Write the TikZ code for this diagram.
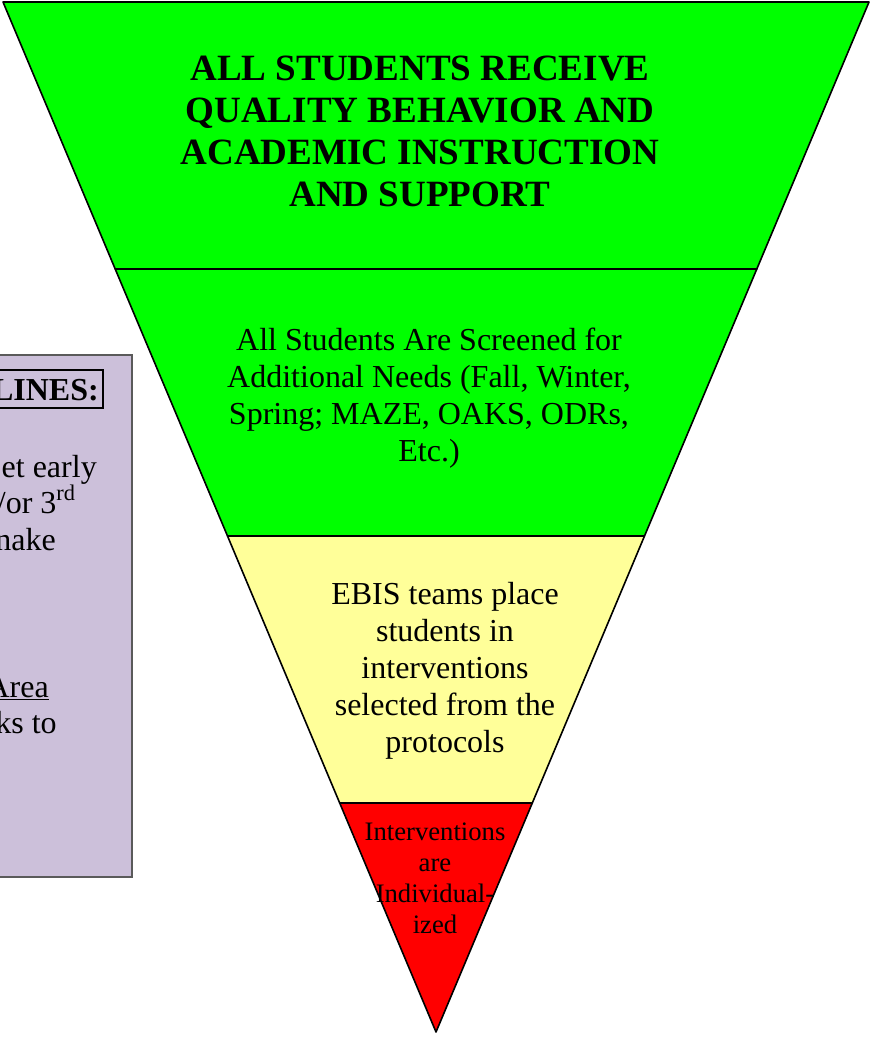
\documentclass[tikz,border=0pt]{standalone}
\usepackage{fontspec}
\setmainfont{Liberation Serif}
\definecolor{tgreen}{RGB}{0,255,0}
\definecolor{tyellow}{RGB}{255,255,153}
\definecolor{tred}{RGB}{255,0,0}
\definecolor{boxpurple}{RGB}{204,192,218}
\definecolor{boxedge}{RGB}{90,90,90}
\tikzset{
  band/.style={draw=black, line width=1.2pt, line join=round},
  toptext/.style={align=center, inner sep=0pt, font=\fontsize{27.8}{31.7}\selectfont\bfseries},
  midtext/.style={align=center, inner sep=0pt, font=\fontsize{24}{27.75}\selectfont},
  smalltext/.style={align=center, inner sep=0pt, font=\fontsize{20}{23.25}\selectfont},
  sidetext/.style={inner sep=0pt, anchor=base east, font=\fontsize{24}{27.75}\selectfont},
}
\begin{document}
\begin{tikzpicture}[x=0.75pt, y=-0.75pt]
\useasboundingbox (0,0) rectangle (871,1037);
\clip (0,0) rectangle (871,1037);
% side box (cut by the page edge)
\draw[fill=boxpurple, draw=boxedge, line width=0.8pt] (-10,355) rectangle (132,877);
\draw[black, line width=1.1pt] (-10,370) rectangle (103,408);
\node[sidetext, font=\fontsize{24}{27.75}\selectfont\bfseries] (sh) at (99,400) {LINES:};
\node[sidetext] (s1) at (97,477) {et early};
\node[sidetext] (s2) at (76,513) {/or 3\textsuperscript{rd}};
\node[sidetext] (s3) at (56,550) {nake};
\node[sidetext] (s4) at (49,697) {\underline{Area}};
\node[sidetext] (s5) at (57,733) {ks to};
% pyramid bands
\fill[tgreen] (3,2) -- (869,2) -- (756.8,269) -- (115.2,269) -- cycle;
\draw[band] (3,2) -- (869,2) -- (756.8,269) -- (115.2,269) -- cycle;
\fill[tgreen] (115.2,269) -- (756.8,269) -- (644.5,536) -- (227.5,536) -- cycle;
\draw[band] (115.2,269) -- (756.8,269) -- (644.5,536) -- (227.5,536) -- cycle;
\fill[tyellow] (227.5,536) -- (644.5,536) -- (532.3,803) -- (339.7,803) -- cycle;
\draw[band] (227.5,536) -- (644.5,536) -- (532.3,803) -- (339.7,803) -- cycle;
\fill[tred] (339.7,803) -- (532.3,803) -- (436,1032) -- cycle;
\draw[band] (339.7,803) -- (532.3,803) -- (436,1032) -- cycle;
% texts (anchor base = baseline of the last line)
\node[toptext, anchor=base] (t1) at (420,207) {ALL STUDENTS RECEIVE\\QUALITY BEHAVIOR AND\\ACADEMIC INSTRUCTION\\AND SUPPORT};
\node[midtext, anchor=base] (t2) at (429,461) {All Students Are Screened for\\Additional Needs (Fall, Winter,\\Spring; MAZE, OAKS, ODRs,\\Etc.)};
\node[midtext, anchor=base] (t3) at (445,752) {EBIS teams place\\students in\\interventions\\selected from the\\protocols};
\node[smalltext, anchor=base] (t4) at (435,933) {Interventions\\are\\Individual-\\ized};
\end{tikzpicture}
\end{document}
